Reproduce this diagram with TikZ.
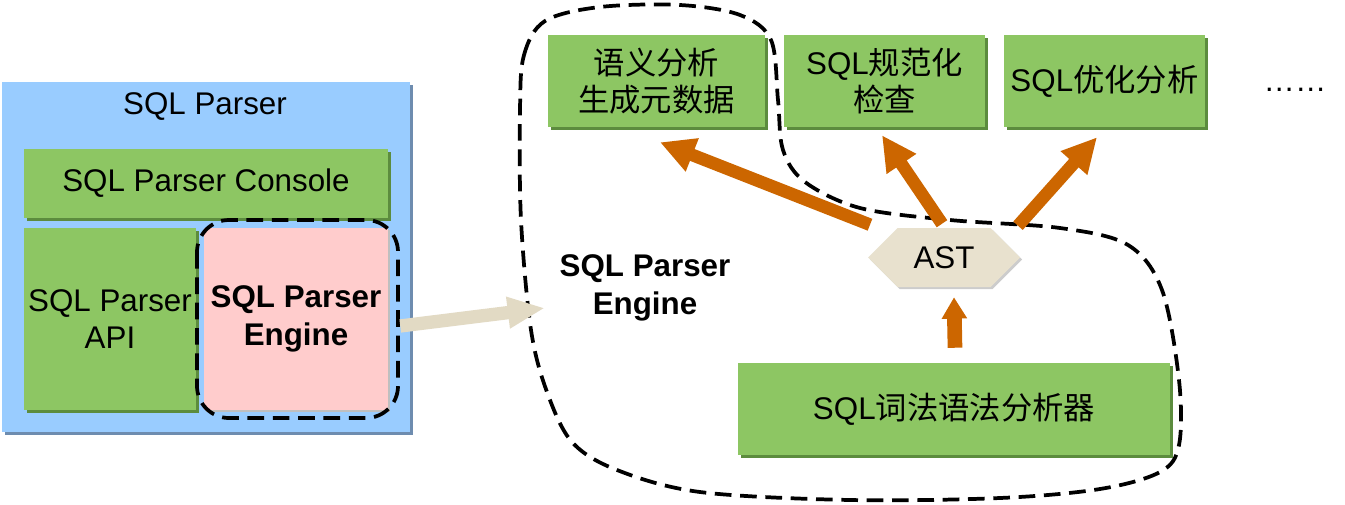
\documentclass[tikz,border=0pt]{standalone}
\usepackage{fontspec}
\setmainfont{Liberation Sans}
\newfontfamily\cjk{Noto Sans CJK SC}
\usetikzlibrary{arrows.meta,shadows,shapes.symbols,calc}
\definecolor{boxgreen}{RGB}{141,198,99}
\definecolor{greenshade}{RGB}{92,140,62}
\definecolor{parserblue}{RGB}{153,204,255}
\definecolor{blueshade}{RGB}{110,140,175}
\definecolor{enginepink}{RGB}{255,204,204}
\definecolor{astbeige}{RGB}{232,225,206}
\definecolor{arroworange}{RGB}{204,102,0}
\definecolor{arrowbeige}{RGB}{226,218,196}
\newcommand{\pxu}{0.75pt}
\begin{document}
\begin{tikzpicture}[x=0.75pt,y=-0.75pt,
  every node/.style={inner sep=0pt,align=center,font=\fontsize{23.5}{28}\selectfont},
  gbox/.style={fill=boxgreen,draw=none,drop shadow={shadow xshift=2.2pt,shadow yshift=-2.2pt,fill=greenshade,opacity=1}},
  dashline/.style={draw=black,line width=2.8pt,dash pattern=on 12.5pt off 6.5pt},
  fatorange/.style={draw=arroworange,line width=9.5pt,-{Triangle[length=26pt,width=25pt]},arroworange},
  fatbeige/.style={draw=arrowbeige,line width=10pt,-{Triangle[length=28pt,width=22pt]},arrowbeige}
]
\useasboundingbox (0,0) rectangle (1345,504);
% left part
\node[fill=parserblue,minimum width=408*\pxu,minimum height=350*\pxu,
      drop shadow={shadow xshift=2pt,shadow yshift=-2pt,fill=blueshade,opacity=1}] (parser) at (206,257) {};
\node (ptitle) at (205,107) {SQL Parser};
\node[gbox,minimum width=364*\pxu,minimum height=69*\pxu] (console) at (206,183.5) {SQL Parser Console};
\node[gbox,minimum width=172*\pxu,minimum height=182*\pxu] (api) at (110,319) {SQL Parser\\API};
\node[fill=enginepink,minimum width=184*\pxu,minimum height=182*\pxu,
      drop shadow={shadow xshift=1.5pt,shadow yshift=-1.5pt,fill=black!25,opacity=1}] (engine) at (296,319) {\bfseries SQL Parser\\\bfseries Engine};
\draw[dashline,rounded corners=24pt] (197,220) rectangle (398,418);
% right part: dashed engine outline
\draw[dashline] plot[smooth cycle,tension=0.55] coordinates {
 (520,110) (524,55) (545,21) (600,7) (680,5) (740,15) (771,40) (778,100) (783,150)
 (805,182) (860,208) (950,220) (1060,228) (1128,245) (1162,290) (1179,380) (1179,445)
 (1160,472) (1100,489) (1000,498) (850,500) (700,492) (617,470) (572,442) (547,392)
 (531,330) (521,220)};
\node[font=\bfseries\fontsize{23.5}{28}\selectfont] (englabel) at (645,288) {SQL Parser\\Engine};
\coordinate (engedge) at (545,308);
% green boxes
\node[gbox,minimum width=217*\pxu,minimum height=92*\pxu] (sem) at (656.5,81) {\cjk 语义分析\\\cjk 生成元数据};
\node[gbox,minimum width=201*\pxu,minimum height=92*\pxu] (norm) at (884.5,81) {SQL{\cjk 规范化}\\\cjk 检查};
\node[gbox,minimum width=201*\pxu,minimum height=92*\pxu] (opt) at (1104.5,81) {SQL{\cjk 优化分析}};
\node (dots) at (1295,90) {……};
\node[gbox,minimum width=432*\pxu,minimum height=92*\pxu] (lex) at (954,409) {SQL{\cjk 词法语法分析器}};
% AST
\node[signal,signal to=west and east,signal pointer angle=90,fill=astbeige,
      minimum width=152*\pxu,minimum height=59*\pxu,
      drop shadow={shadow xshift=1.5pt,shadow yshift=-1.5pt,fill=black!20,opacity=1}] (ast) at (944,257.5) {AST};
% arrows
\draw[fatbeige] ([shift={(12,7)}]engine.east) -- (engedge);
\draw[fatorange] ([shift={(-74,-3)}]ast.north) -- ([shift={(3.5,15)}]sem.south);
\draw[fatorange] ([shift={(-2,-4)}]ast.north) -- ([shift={(-2.5,8)}]norm.south);
\draw[fatorange] ([shift={(74,-2)}]ast.north) -- ([shift={(-7.5,10)}]opt.south);
\draw[draw=arroworange,line width=11pt,-{Triangle[length=16pt,width=18pt]},arroworange] ([shift={(1,-15)}]lex.north) -- ([shift={(10,10)}]ast.south);
\end{tikzpicture}
\end{document}
